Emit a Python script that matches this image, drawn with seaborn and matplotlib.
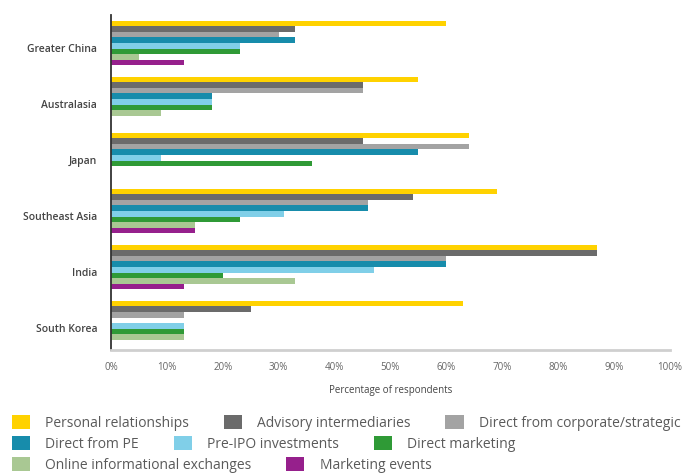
import matplotlib
matplotlib.use("Agg")
import matplotlib.pyplot as plt
import seaborn as sns
import pandas as pd
from matplotlib.patches import Patch
from matplotlib.ticker import FuncFormatter

regions = ["Greater China", "Australasia", "Japan", "Southeast Asia", "India", "South Korea"]
channels = [
    "Personal relationships", "Advisory intermediaries", "Direct from corporate/strategic",
    "Direct from PE", "Pre-IPO investments", "Direct marketing",
    "Online informational exchanges", "Marketing events",
]

personal_relationships = [60, 55, 64, 69, 87, 63]
advisory_intermediaries = [33, 45, 45, 54, 87, 25]
direct_from_corporate = [30, 45, 64, 46, 60, 13]
direct_from_pe = [33, 18, 55, 46, 60, 0]
pre_ipo_investments = [23, 18, 9, 31, 47, 13]
direct_marketing = [23, 18, 36, 23, 20, 13]
online_exchanges = [5, 9, 0, 15, 33, 13]
marketing_events = [13, 0, 0, 15, 13, 0]

series = [personal_relationships, advisory_intermediaries, direct_from_corporate,
          direct_from_pe, pre_ipo_investments, direct_marketing,
          online_exchanges, marketing_events]

colors = ["#FFD200", "#6B6B6B", "#A3A3A3", "#178CAB", "#80CFE8", "#2F9A36", "#A9C893", "#96208C"]

rows = []
for ch, vals in zip(channels, series):
    for reg, v in zip(regions, vals):
        rows.append({"region": reg, "channel": ch, "value": v})
df = pd.DataFrame(rows)

sns.set_style("white")
plt.rcParams["font.family"] = ["Open Sans", "DejaVu Sans"]

fig = plt.figure(figsize=(6.85, 4.74), dpi=100)
ax = fig.add_axes([111 / 685, 1 - 350 / 474, (670 - 111) / 685, (350 - 15) / 474])

sns.barplot(data=df, y="region", x="value", hue="channel", order=regions,
            hue_order=channels, palette=colors, orient="h", width=0.8,
            saturation=1, linewidth=0, ax=ax, legend=False)

ax.set_xlim(0, 100)
ax.set_ylim(5.48, -0.5)
ax.set_xticks(range(0, 101, 10))
ax.xaxis.set_major_formatter(FuncFormatter(lambda v, p: f"{int(v)}%"))
ax.set_yticks([i + 0.09 for i in range(len(regions))])
ax.set_yticklabels(regions)
ax.tick_params(axis="x", direction="in", length=6, width=1, color="#555555",
               labelsize=7, labelcolor="#666666", pad=9)
ax.tick_params(axis="y", length=0, labelsize=7.5, labelcolor="#444444", pad=10)
for lab in ax.get_yticklabels():
    lab.set_fontweight("semibold")

ax.set_xlabel("Percentage of respondents", fontsize=7, color="#444444", labelpad=8)
ax.set_ylabel("")

for side in ["top", "right"]:
    ax.spines[side].set_visible(False)
ax.spines["left"].set_color("#333333")
ax.spines["left"].set_linewidth(1.3)
ax.spines["bottom"].set_color("#cfcfcf")
ax.spines["bottom"].set_linewidth(2)

handles = [Patch(facecolor=c, edgecolor="none", label=l) for c, l in zip(colors, channels)]
legend_rows = [(0, 3, 1 - 423 / 474), (3, 6, 1 - 444 / 474), (6, 8, 1 - 465 / 474)]
for start, stop, y in legend_rows:
    leg = fig.legend(handles=handles[start:stop], loc="center left",
                     bbox_to_anchor=(12 / 685, y), ncol=stop - start, frameon=False,
                     fontsize=10, handlelength=1.3, handleheight=1.15,
                     handletextpad=1.1, columnspacing=2.5, borderaxespad=0,
                     borderpad=0)
    for t in leg.get_texts():
        t.set_color("#5a5a5a")

fig.savefig("out.png", dpi=100)
